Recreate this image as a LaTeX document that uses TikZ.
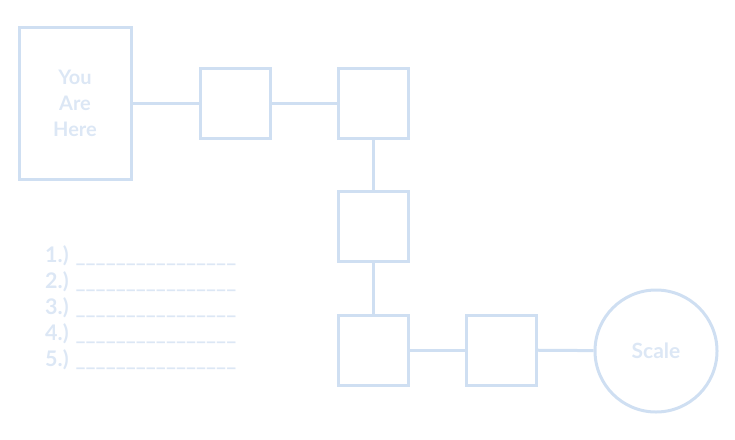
\documentclass[tikz,border=0pt]{standalone}
\usepackage{fontspec}
\setmainfont{Lato}
\usepackage{tikz}
\definecolor{paleblue}{HTML}{CFDFF2}
\definecolor{paletext}{HTML}{DCE7F5}

\begin{document}
\begin{tikzpicture}[x=1pt, y=-1pt]
        %style
        \tikzset{stop/.style = {shape=rectangle, draw=paleblue, line width=3pt, minimum width=70pt, minimum height=70pt, inner sep=0pt}}
        \tikzset{start/.style = {shape=rectangle, draw=paleblue, line width=3pt, minimum width=112pt, minimum height=152pt, align=center, text=paletext, font=\bfseries\fontsize{20}{26}\selectfont}}
        \tikzset{goal/.style = {shape=circle, draw=paleblue, line width=3pt, minimum size=122pt, inner sep=0pt, text=paletext, font=\bfseries\fontsize{21}{26}\selectfont}}
        \tikzset{link/.style = {draw=paleblue, line width=3pt}}
        \useasboundingbox (0,0) rectangle (735,439);
        \node[start] (here)  at (75,103)  {You\\Are\\Here};
        \node[stop]  (s1)    at (235,103) {};
        \node[stop]  (s2)    at (373,103) {};
        \node[stop]  (s3)    at (373,226) {};
        \node[stop]  (s4)    at (373,350) {};
        \node[stop]  (s5)    at (501,350) {};
        \node[goal]  (scale) at (656,351) {Scale};
        \node[anchor=north west, align=left, inner sep=0pt, text=paletext, font=\bfseries\fontsize{21.5}{26}\selectfont] (list) at (45,245)
            {1.) \_\_\_\_\_\_\_\_\_\_\_\_\_\_\_\_\\2.) \_\_\_\_\_\_\_\_\_\_\_\_\_\_\_\_\\3.) \_\_\_\_\_\_\_\_\_\_\_\_\_\_\_\_\\4.) \_\_\_\_\_\_\_\_\_\_\_\_\_\_\_\_\\5.) \_\_\_\_\_\_\_\_\_\_\_\_\_\_\_\_};
        \draw[link] (here) to (s1);
        \draw[link] (s1) to (s2);
        \draw[link] (s2) to (s3);
        \draw[link] (s3) to (s4);
        \draw[link] (s4) to (s5);
        \draw[link] (s5) to (scale);
\end{tikzpicture}
\end{document}
